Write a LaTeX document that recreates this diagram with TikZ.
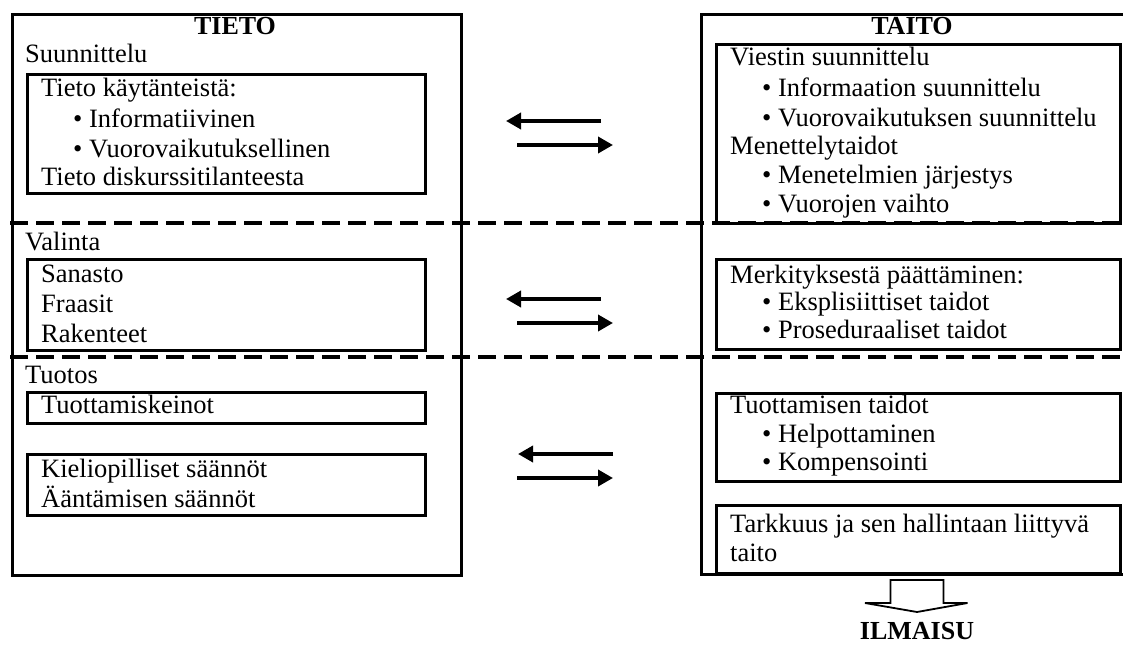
\documentclass[tikz,border=0pt]{standalone}
\usepackage{fontspec}
\setmainfont{Liberation Serif}
\usetikzlibrary{arrows.meta}
\begin{document}
\begin{tikzpicture}[x=1pt,y=-1pt,
  txt/.style={anchor=base west, inner sep=0pt, font=\fontsize{26.5}{30}\selectfont},
  ttl/.style={anchor=base, inner sep=0pt, font=\fontsize{26}{30}\selectfont\bfseries},
  frame/.style={draw, line width=2.8pt, inner sep=0pt, anchor=north west},
  sep/.style={line width=4pt, dash pattern=on 18pt off 8pt},
  swap/.style={line width=3.6pt, -{Triangle[length=15pt,width=16pt]}},
  hollow/.style={draw, line width=1.8pt, fill=white, line join=miter}
]
\useasboundingbox (0,0) rectangle (1123,650);
\clip (0,0) rectangle (1123,650);

% outer columns
\node[frame, minimum width=449pt, minimum height=561pt] (tieto) at (11,13) {};
\node[frame, minimum width=440pt, minimum height=560pt] (taito) at (700,13) {};

% section separators
\coordinate (s1a) at (10,223);  \coordinate (s1b) at (1130,223);
\coordinate (s2a) at (10,357);  \coordinate (s2b) at (1130,357);
\draw[sep] (s1a) -- (s1b);
\draw[sep] (s2a) -- (s2b);

% left inner boxes
\node[frame, minimum width=398pt, minimum height=119pt] (l1) at (26,73) {};
\node[frame, minimum width=398pt, minimum height=91pt]  (l2) at (26,258) {};
\node[frame, minimum width=398pt, minimum height=31pt]  (l3) at (26,391) {};
\node[frame, minimum width=398pt, minimum height=61pt]  (l4) at (26,453) {};

% right inner boxes
\node[frame, minimum width=404pt, minimum height=179pt] (r1) at (715,43) {};
\node[frame, minimum width=404pt, minimum height=90pt]  (r2) at (715,258) {};
\node[frame, minimum width=404pt, minimum height=88pt]  (r3) at (715,392) {};
\node[frame, minimum width=404pt, minimum height=68pt]  (r4) at (715,504) {};

% titles
\node[ttl] (tTieto) at (235,35) {TIETO};
\node[ttl] (tTaito) at (912,35) {TAITO};

% left texts
\node[txt] (lSuun) at (25,63)  {Suunnittelu};
\node[txt] (lKay)  at (41,97)  {Tieto käytänteistä:};
\node[txt] (lInf)  at (73,128) {• Informatiivinen};
\node[txt] (lVuo)  at (73,157) {• Vuorovaikutuksellinen};
\node[txt] (lDis)  at (41,185) {Tieto diskurssitilanteesta};
\node[txt] (lVal)  at (25,250) {Valinta};
\node[txt] (lSan)  at (41,282) {Sanasto};
\node[txt] (lFra)  at (41,312) {Fraasit};
\node[txt] (lRak)  at (41,342) {Rakenteet};
\node[txt] (lTuo)  at (25,383) {Tuotos};
\node[txt] (lKei)  at (41,413) {Tuottamiskeinot};
\node[txt] (lKie)  at (41,477) {Kieliopilliset säännöt};
\node[txt] (lAan)  at (41,507) {Ääntämisen säännöt};

% right texts
\node[txt] (rVie)  at (730,66)  {Viestin suunnittelu};
\node[txt] (rInf)  at (762,97)  {• Informaation suunnittelu};
\node[txt] (rVuo)  at (762,127) {• Vuorovaikutuksen suunnittelu};
\node[txt] (rMen)  at (730,154) {Menettelytaidot};
\node[txt] (rJar)  at (762,183) {• Menetelmien järjestys};
\node[txt] (rVai)  at (762,212) {• Vuorojen vaihto};
\node[txt] (rMer)  at (730,283) {Merkityksestä päättäminen:};
\node[txt] (rEks)  at (762,310) {• Eksplisiittiset taidot};
\node[txt] (rPro)  at (762,338) {• Proseduraaliset taidot};
\node[txt] (rTuo)  at (730,413) {Tuottamisen taidot};
\node[txt] (rHel)  at (762,442) {• Helpottaminen};
\node[txt] (rKom)  at (762,470) {• Kompensointi};
\node[txt] (rTar)  at (730,532) {Tarkkuus ja sen hallintaan liittyvä};
\node[txt] (rTai)  at (730,561) {taito};

% exchange arrows between the columns
\coordinate (a1l) at (601,121); \coordinate (a1t) at (506,121);
\coordinate (a1r) at (517,145); \coordinate (a1h) at (613,145);
\coordinate (a2l) at (601,299); \coordinate (a2t) at (506,299);
\coordinate (a2r) at (517,323); \coordinate (a2h) at (613,323);
\coordinate (a3l) at (613,454); \coordinate (a3t) at (518,454);
\coordinate (a3r) at (517,478); \coordinate (a3h) at (613,478);
\draw[swap] (a1l) -- (a1t);
\draw[swap] (a1r) -- (a1h);
\draw[swap] (a2l) -- (a2t);
\draw[swap] (a2r) -- (a2h);
\draw[swap] (a3l) -- (a3t);
\draw[swap] (a3r) -- (a3h);

% output arrow
\coordinate (down) at (917,580);
\draw[hollow] (down) ++(-26.5,0) -- ++(53,0) -- ++(0,23) -- ++(24,0)
  -- (917,612) -- (865,603) -- (890.5,603) -- cycle;
\node[ttl] (ilmaisu) at (917,639) {ILMAISU};
\end{tikzpicture}
\end{document}
